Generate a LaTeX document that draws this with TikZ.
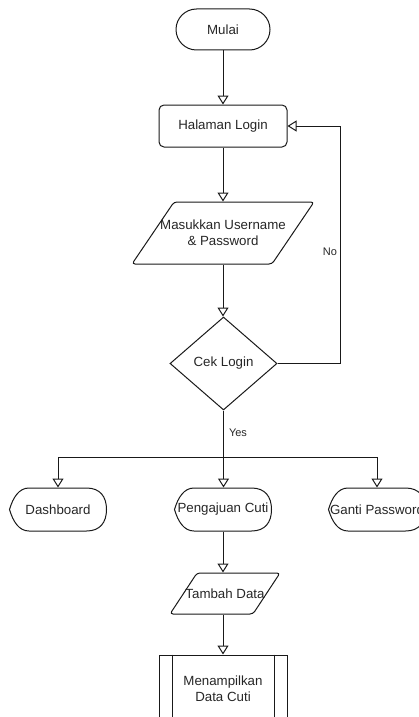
\documentclass[tikz,border=0pt]{standalone}
\usepackage{fontspec}
\setmainfont{Liberation Sans}
\usetikzlibrary{arrows.meta,shapes.geometric,calc}
\newcommand\dispdraw[1]{%
  \draw ($(#1)+(-48.5,0)$) .. controls ($(#1)+(-45,-12)$) and ($(#1)+(-39,-21.5)$) .. ($(#1)+(-29,-21.5)$)
    -- ($(#1)+(28.5,-21.5)$) .. controls ($(#1)+(42,-21.5)$) and ($(#1)+(48.5,-13)$) .. ($(#1)+(48.5,0)$)
    .. controls ($(#1)+(48.5,13)$) and ($(#1)+(42,21.5)$) .. ($(#1)+(28.5,21.5)$)
    -- ($(#1)+(-29,21.5)$) .. controls ($(#1)+(-39,21.5)$) and ($(#1)+(-45,12)$) .. cycle;}
\begin{document}
\begin{tikzpicture}[x=1pt,y=-1pt,line width=1pt,draw=black!90,
  font=\fontsize{13.3}{16}\selectfont,
  lbl/.style={text=black!85,inner sep=0pt,align=center},
  elbl/.style={text=black!85,inner sep=0pt,font=\fontsize{11}{13}\selectfont},
  arr/.style={draw=black!90,-{Triangle[open,length=9pt,width=11pt]}},
  hold/.style={lbl,draw=none}]
\useasboundingbox (0,0) rectangle (419,717);

% nodes
\node[lbl,draw,rounded corners=20.5pt,minimum width=94pt,minimum height=41pt] (mulai) at (223,29.5) {Mulai};
\node[lbl,draw,rounded corners=5pt,minimum width=128pt,minimum height=42pt] (login) at (223,126) {Halaman Login};
\node[hold,minimum width=140pt,minimum height=62pt] (mas) at (223,233) {Masukkan Username\\\& Password};
\draw[rounded corners=3pt] ($(mas)+(-49,-31)$) -- ($(mas)+(91,-31)$) -- ($(mas)+(49,31)$) -- ($(mas)+(-91,31)$) -- cycle;
\node[lbl,draw,diamond,minimum width=107pt,minimum height=93pt] (ck) at (223.5,363.5) {Cek Login};

\node[hold,minimum width=97pt,minimum height=43pt] (dash) at (58,509.5) {Dashboard};
\node[hold,minimum width=97pt,minimum height=43pt] (peng) at (223,509.5) {Pengajuan Cuti};
\node[hold,minimum width=97pt,minimum height=43pt] (ganti) at (377,509.5) {Ganti Password};
\dispdraw{dash}
\dispdraw{peng}
\dispdraw{ganti}

\node[hold,minimum width=83pt,minimum height=41pt] (tam) at (225,593.5) {Tambah Data};
\draw[rounded corners=3pt] ($(tam)+(-28,-20.5)$) -- ($(tam)+(55,-20.5)$) -- ($(tam)+(28,20.5)$) -- ($(tam)+(-55,20.5)$) -- cycle;

\node[lbl,draw,minimum width=128pt,minimum height=68pt] (menam) at (223,689) {Menampilkan\\Data Cuti};
\draw ([xshift=13.5pt]menam.north west) -- ([xshift=13.5pt]menam.south west);
\draw ([xshift=-13.5pt]menam.north east) -- ([xshift=-13.5pt]menam.south east);

% labels
\node[elbl] (no) at (330,252) {No};
\node[elbl] (yes) at (238,433) {Yes};

% coordinates
\coordinate (fb) at (340.5,0);
\coordinate (br) at (223.5,457);

% connectors
\draw[arr] (mulai.south) -- (login.north);
\draw[arr] (login.south) -- (mas.north);
\draw[arr] (mas.south) -- (mas.south |- ck.north);
\draw[arr] (ck.east) -- (ck.east -| fb) |- (login.east);
\draw[arr] (ck.south) -- (br) -| (dash.north);
\draw[arr] (br) -- (br |- peng.north);
\draw[arr] (br) -| (ganti.north);
\draw[arr] (peng.south) -- (peng.south |- tam.north);
\draw[arr] (peng.south |- tam.south) -- (peng.south |- menam.north);
\end{tikzpicture}
\end{document}
